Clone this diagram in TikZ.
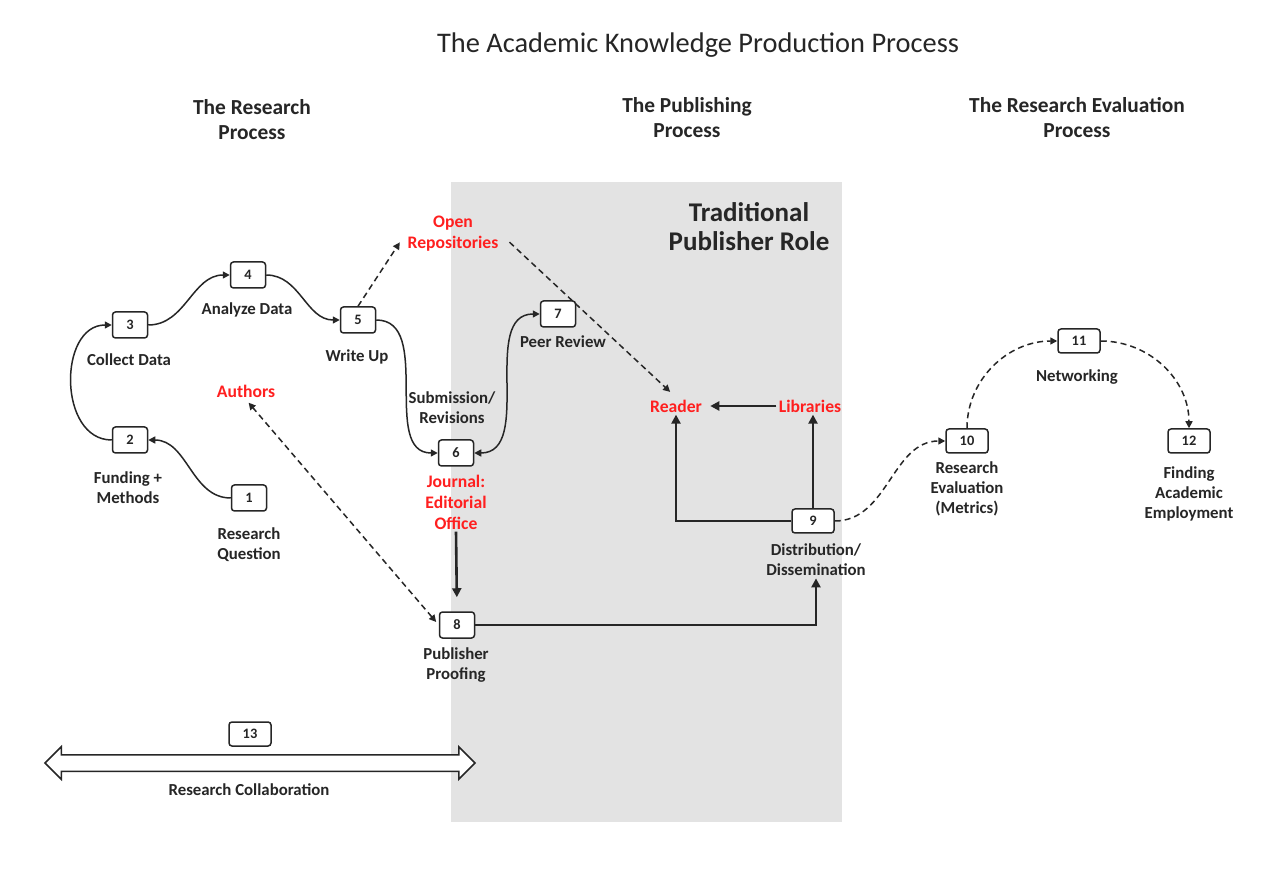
\documentclass[tikz,border=0pt]{standalone}
\usepackage{fontspec}
\setmainfont{Carlito}
\usepackage{xcolor}
\definecolor{cInk}{HTML}{262626}
\definecolor{cRed}{HTML}{FF1F1F}
\definecolor{cShade}{HTML}{E3E3E3}
\usepackage{tikz}
\usetikzlibrary{positioning,arrows.meta,calc,shapes.arrows}
\tikzset{
  node-box/.style={draw=cInk,line width=0.75pt,rounded corners=1.5pt,fill=white,
    minimum width=17.5pt,minimum height=13pt,inner sep=0pt,
    font=\bfseries\fontsize{7.2}{8}\selectfont,text=cInk},
  node-wide/.style={node-box,minimum width=21pt,minimum height=12pt},
  node-label/.style={align=center,inner sep=1pt,text=cInk,
    font=\bfseries\fontsize{8.4}{10}\selectfont},
  node-actor/.style={align=center,inner sep=1pt,text=cRed,
    font=\bfseries\fontsize{8.8}{10.5}\selectfont},
  node-head/.style={align=center,inner sep=0pt,text=cInk,
    font=\bfseries\fontsize{10.7}{12.5}\selectfont},
  arrow/.style={-{Triangle[length=3.5pt,width=3.5pt]},line width=0.75pt,draw=cInk},
  arrow-both/.style={arrow,{Triangle[length=3.5pt,width=3.5pt]}-{Triangle[length=3.5pt,width=3.5pt]}},
  arrow-async/.style={arrow,dash pattern=on 3pt off 2pt},
  arrow-thick/.style={-{Triangle[length=4.5pt,width=4.5pt]},line width=1.3pt,draw=cInk},
}
\begin{document}
\begin{tikzpicture}[x=0.5pt,y=-0.5pt]
  \useasboundingbox (0,0) rectangle (1280,871);
  \fill[white] (0,0) rectangle (1280,871);
  % the publisher's share of the process
  \fill[cShade] (451,182) rectangle (842,822);

  \node[text=cInk,font=\fontsize{14.2}{16}\selectfont] (title) at (698,45)
    {The Academic Knowledge Production Process};
  \node[node-head] (h-research) at (252,120) {The Research\\Process};
  \node[node-head] (h-publish) at (687,118) {The Publishing\\Process};
  \node[node-head] (h-eval) at (1077,118) {The Research Evaluation\\Process};
  \node[node-head,font=\bfseries\fontsize{13.5}{14.5}\selectfont] (h-role) at (749,227)
    {Traditional\\Publisher Role};

  \foreach \id/\x/\y in {1/249/498, 2/130/440, 3/130/325, 4/248/275,
                         5/358/320, 6/456/453, 7/558/314, 8/457/625}
    \node[node-box] (n\id) at (\x,\y) {\id};
  \foreach \id/\x/\y in {9/813/521, 10/967/441, 11/1079/341, 12/1189/441, 13/250/734}
    \node[node-wide] (n\id) at (\x,\y) {\id};

  \foreach \id/\x/\y/\txt in {1/249/545/{Research\\Question}, 2/128/488/{Funding +\\Methods},
      3/129/360/{Collect Data}, 4/247/310/{Analyze Data}, 5/357/357/{Write Up},
      7/563/342/{Peer Review}, 8/456/665/{Publisher\\Proofing},
      9/816/560/{Distribution/\\Dissemination}, 10/967/489/{Research\\Evaluation\\(Metrics)},
      11/1077/377/{Networking}, 12/1189/494/{Finding\\Academic\\Employment},
      13/249/790/{Research Collaboration}}
    \node[node-label] (l\id) at (\x,\y) {\txt};
  \node[node-label] (submit) at (452,408) {Submission/\\Revisions};

  \node[node-actor] (journal) at (456,502) {Journal:\\Editorial\\Office};
  \node[node-actor] (authors) at (246,391) {Authors};
  \node[node-actor] (repos) at (453,234) {Open\\Repositories};
  \node[node-actor] (reader) at (676,406) {Reader};
  \node[node-actor] (libraries) at (810,406) {Libraries};

  \node[double arrow,draw=cInk,line width=0.75pt,fill=white,minimum height=215pt,
    minimum width=15.5pt,double arrow head extend=4pt,inner sep=3.75pt] (collab) at (260,763) {};

  % research loop
  \draw[arrow] (n1.west) to[out=180,in=0] (n2.east);
  \draw[arrow] (n2.west) to[out=180,in=180,looseness=1.2] (n3.west);
  \draw[arrow] (n3.east) to[out=0,in=180] (n4.west);
  \draw[arrow] (n4.east) to[out=0,in=180] (n5.west);
  \draw[arrow] (n5.east) to[out=0,in=180] (n6.west);
  \draw[arrow-both] (n7.west) to[out=180,in=0] (n6.east);

  % open access routes
  \draw[arrow-async,shorten >=5pt] (n5.north) -- (repos.west);
  \draw[arrow-async,shorten <=6pt,shorten >=4pt] (repos.east) -- (reader.north);
  \draw[arrow-async,arrow-both,dash pattern=on 3pt off 2pt,shorten >=2pt,shorten <=2pt]
    (n8.west) -- (authors.south);

  % publishing
  \draw[arrow-thick,shorten >=7pt] (journal.south) -- (n8.north);
  \draw[arrow-thick] (n8.east) -| (l9.south);
  \draw[arrow-thick] (n9.west) -| (reader.south);
  \draw[arrow-thick] (n9.north) -- (n9.north |- libraries.south);
  \draw[arrow-thick,shorten >=3pt] (libraries.west) -- (reader.east);

  % evaluation
  \draw[arrow-async] (n9.east) to[out=0,in=180] (n10.west);
  \draw[arrow-async] (n10.north) to[out=90,in=180] (n11.west);
  \draw[arrow-async] (n11.east) to[out=0,in=90] (n12.north);
\end{tikzpicture}
\end{document}
